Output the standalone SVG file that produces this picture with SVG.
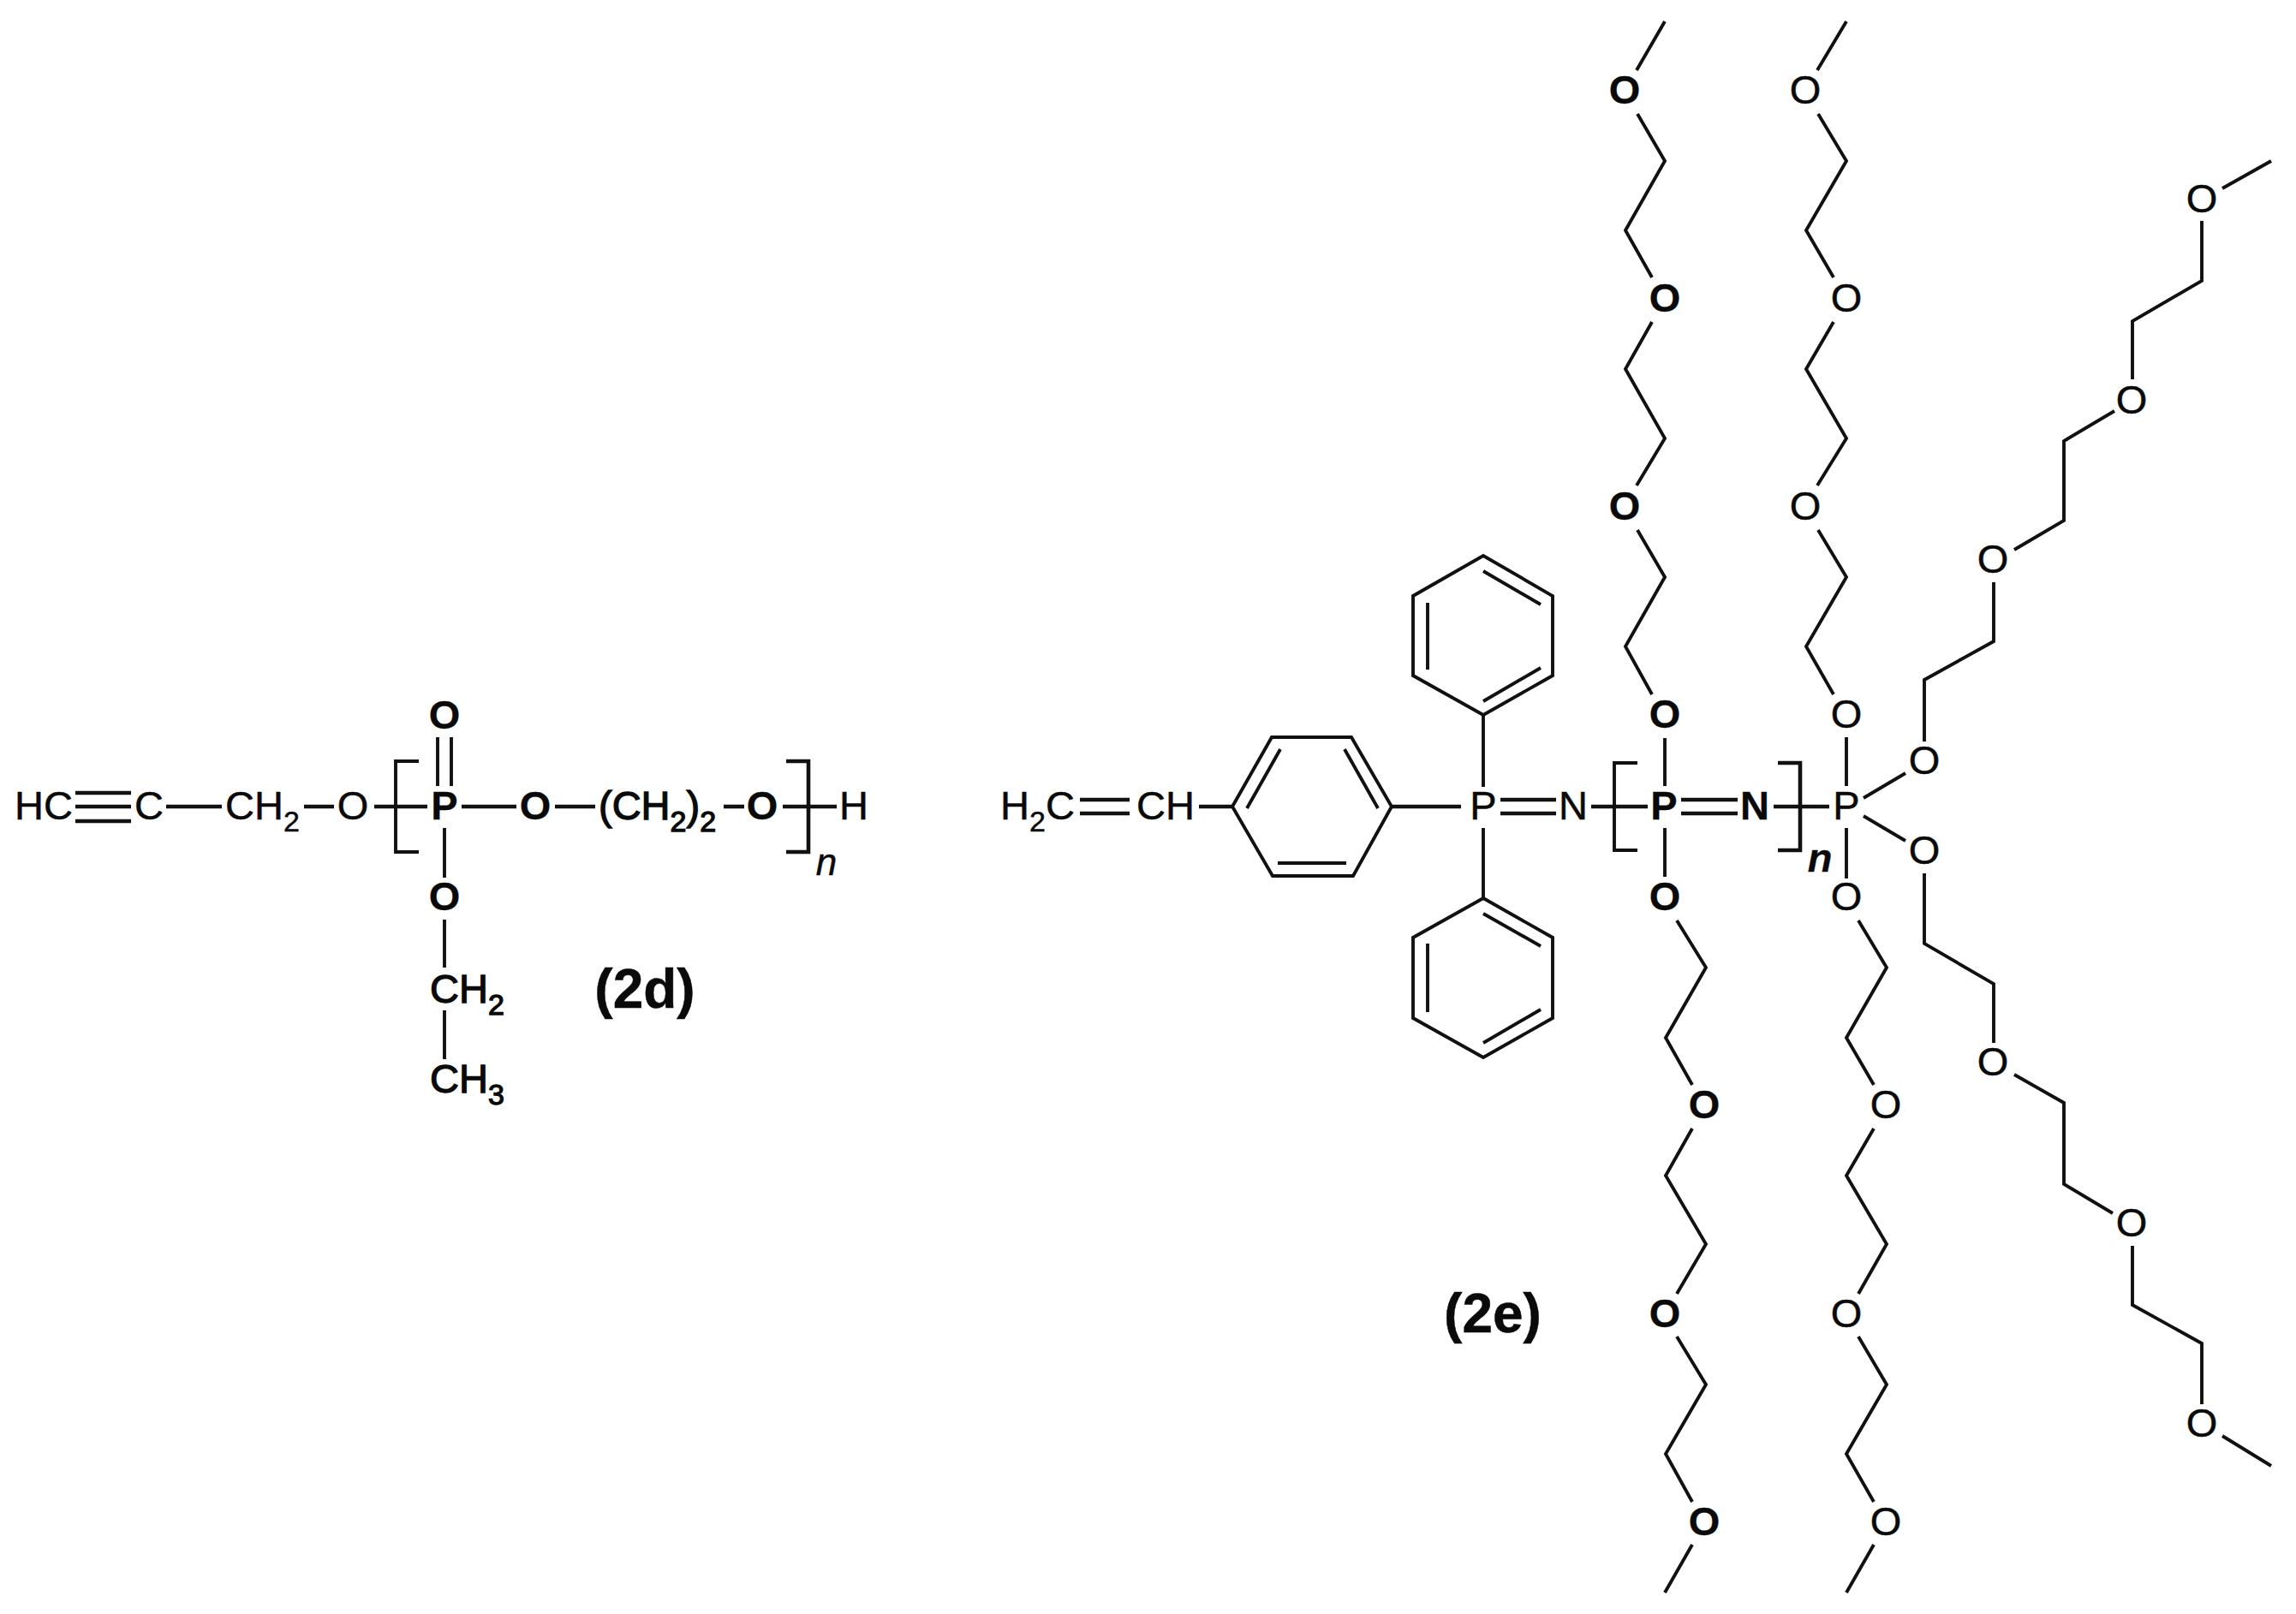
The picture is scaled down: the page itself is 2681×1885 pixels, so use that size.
<svg xmlns="http://www.w3.org/2000/svg" width="2681" height="1885" viewBox="0 0 2681 1885">
<style>
text{font-family:"Liberation Sans",Arial,sans-serif;font-size:47px;fill:#0a0a0a;text-anchor:middle;stroke:#0a0a0a;stroke-width:.5px}
.b{font-weight:bold;stroke-width:.3px}
.m{stroke-width:1.3px}
.s{font-size:34px}
.l{font-size:64px;font-weight:bold}
.st{text-anchor:start}
.n{font-style:italic}
polyline,line,polygon{fill:none;stroke:#111;stroke-width:3.9;stroke-linejoin:miter;stroke-linecap:butt}
.h{stroke-width:4.6}
</style>
<rect width="2681" height="1885" fill="#fff"/>
<g id="connectors">
<g id="bonds-2d" class="c2d">
<line class="h" x1="88" y1="926" x2="153" y2="926"/><line class="h" x1="88" y1="942" x2="153" y2="942"/><line class="h" x1="88" y1="959" x2="153" y2="959"/>
<line class="h" x1="194" y1="942" x2="259" y2="942"/>
<line class="h" x1="355" y1="942" x2="390" y2="942"/>
<line class="h" x1="437" y1="942" x2="499" y2="942"/>
<line class="h" x1="539" y1="942" x2="603" y2="942"/>
<line class="h" x1="648" y1="942" x2="695" y2="942"/>
<line class="h" x1="845" y1="942" x2="869" y2="942"/>
<line class="h" x1="914" y1="942" x2="977" y2="942"/>
<line x1="511" y1="861" x2="511" y2="918"/><line x1="527" y1="861" x2="527" y2="918"/>
<line x1="519" y1="967" x2="519" y2="1025"/>
<line x1="519" y1="1074" x2="519" y2="1130"/>
<line x1="519" y1="1180" x2="519" y2="1237"/>
<polyline points="489,889 462,889 462,995 489,995"/>
<polyline class="h" points="918,889 944,889 944,995 918,995"/>
</g>
<g id="bonds-2e-core">
<line class="h" x1="1261" y1="934" x2="1319" y2="934"/><line class="h" x1="1261" y1="950" x2="1319" y2="950"/>
<line class="h" x1="1400" y1="942" x2="1439" y2="942"/>
<line class="h" x1="1625" y1="942" x2="1706" y2="942"/>
<line class="h" x1="1752" y1="934" x2="1817" y2="934"/><line class="h" x1="1752" y1="950" x2="1817" y2="950"/>
<line x1="1732" y1="919" x2="1732" y2="835"/>
<line x1="1732" y1="967" x2="1732" y2="1049"/>
<line class="h" x1="1858" y1="942" x2="1924" y2="942"/>
<line class="h" x1="1963" y1="934" x2="2029" y2="934"/><line class="h" x1="1963" y1="950" x2="2029" y2="950"/>
<line class="h" x1="2071" y1="942" x2="2136" y2="942"/>
<line x1="1944" y1="862" x2="1944" y2="918"/>
<line x1="1944" y1="967" x2="1944" y2="1024"/>
<line x1="2156" y1="861" x2="2156" y2="918"/>
<line x1="2156" y1="967" x2="2156" y2="1026"/>
<line x1="2176" y1="932" x2="2225" y2="903"/>
<line x1="2176" y1="953" x2="2225" y2="982"/>
<polyline points="1912,891 1885,891 1885,993 1912,993"/>
<polyline class="h" points="2076,891 2102,891 2102,993 2076,993"/>
</g>
<g id="chain-1">
<line x1="1911" y1="82" x2="1944" y2="25"/>
<polyline points="1912,133 1944,188 1898,269 1929,324"/>
<polyline points="1929,376 1898,431 1944,512 1911,567"/>
<polyline points="1912,619 1944,674 1898,755 1929,811"/>
</g>
<g id="chain-2">
<line x1="2122" y1="82" x2="2156" y2="25"/>
<polyline points="2123,133 2156,188 2109,269 2141,324"/>
<polyline points="2141,376 2109,431 2156,512 2122,567"/>
<polyline points="2123,619 2156,674 2109,755 2141,811"/>
</g>
<g id="chain-3">
<line x1="2595" y1="220" x2="2652" y2="188"/>
<polyline points="2571,258 2571,328 2490,375 2490,443"/>
<polyline points="2469,480 2410,515 2410,608 2352,642"/>
<polyline points="2328,680 2328,749 2247,794 2247,866"/>
</g>
<g id="chain-4">
<polyline points="1958,1075 1992,1130 1945,1212 1976,1267"/>
<polyline points="1976,1318 1945,1373 1992,1453 1958,1511"/>
<polyline points="1958,1561 1992,1617 1945,1698 1976,1754"/>
<line x1="1976" y1="1804" x2="1944" y2="1860"/>
</g>
<g id="chain-5">
<polyline points="2170,1075 2203,1130 2156,1212 2188,1267"/>
<polyline points="2188,1318 2156,1373 2203,1453 2170,1511"/>
<polyline points="2170,1561 2203,1617 2156,1698 2188,1754"/>
<line x1="2188" y1="1804" x2="2156" y2="1860"/>
</g>
<g id="chain-6">
<polyline points="2247,1020 2247,1102 2328,1149 2328,1218"/>
<polyline points="2352,1255 2410,1288 2410,1383 2467,1417"/>
<polyline points="2490,1455 2490,1524 2571,1569 2571,1640"/>
<line x1="2595" y1="1677" x2="2652" y2="1712"/>
</g>
</g>
<g id="ring-vinylphenyl">
<polygon points="1439,942 1485,861 1578,861 1625,942 1580,1023 1486,1023"/>
<line x1="1456" y1="944" x2="1495" y2="875"/><line x1="1570" y1="875" x2="1609" y2="944"/><line x1="1492" y1="1008" x2="1572" y2="1008"/>
</g>
<g id="ring-phenyl-top">
<polygon points="1732,835 1813,789 1813,696 1732,649 1650,696 1650,789"/>
<line x1="1667" y1="704" x2="1667" y2="782"/><line x1="1732" y1="667" x2="1799" y2="706"/><line x1="1732" y1="819" x2="1799" y2="780"/>
</g>
<g id="ring-phenyl-bottom">
<polygon points="1732,1049 1813,1095 1813,1189 1732,1235 1650,1189 1650,1095"/>
<line x1="1732" y1="1067" x2="1799" y2="1105"/><line x1="1667" y1="1102" x2="1667" y2="1182"/><line x1="1732" y1="1218" x2="1799" y2="1179"/>
</g>
<g id="mol-2d-atoms" transform="translate(0,-1)">
<g id="d-hc"><text class="st" x="17" y="958">HC</text></g>
<g id="d-c"><text x="174" y="958">C</text></g>
<g id="d-ch2"><text class="st" x="263" y="958">CH<tspan class="s" dy="14">2</tspan></text></g>
<g id="d-o1"><text x="412" y="958">O</text></g>
<g id="d-p"><text class="b" x="519" y="958">P</text></g>
<g id="d-o-top"><text class="b" x="519" y="852">O</text></g>
<g id="d-o2"><text class="b" x="625" y="958">O</text></g>
<g id="d-ch22"><text class="st m" x="699" y="958">(CH<tspan class="s" dy="14">2</tspan><tspan dy="-14">)</tspan><tspan class="s" dy="14">2</tspan></text></g>
<g id="d-o3"><text class="b" x="890" y="958">O</text></g>
<g id="d-h"><text x="997" y="958">H</text></g>
<g id="d-n"><text class="n" x="965" y="1023" style="font-size:44px">n</text></g>
<g id="d-o-low"><text class="b" x="519" y="1064">O</text></g>
<g id="d-ch2b"><text class="st m" x="502" y="1172">CH<tspan class="s" dy="14">2</tspan></text></g>
<g id="d-ch3"><text class="st m" x="502" y="1277">CH<tspan class="s" dy="14">3</tspan></text></g>
<g id="label-2d"><text class="l" x="753" y="1178">(2d)</text></g>
</g>
<g id="mol-2e-atoms" transform="translate(0,-1)">
<g id="e-h2c"><text class="st" x="1168" y="958">H<tspan class="s" dy="14">2</tspan><tspan dy="-14">C</tspan></text></g>
<g id="e-ch"><text class="st" x="1327" y="958">CH</text></g>
<g id="e-p1"><text x="1732" y="958">P</text></g>
<g id="e-n1"><text x="1837" y="958">N</text></g>
<g id="e-p2"><text class="b" x="1943" y="958">P</text></g>
<g id="e-n2"><text class="b" x="2049" y="958">N</text></g>
<g id="e-p3"><text x="2156" y="958">P</text></g>
<g id="e-n"><text class="b n" x="2125" y="1019">n</text></g>
<g id="label-2e"><text class="l" x="1743" y="1557">(2e)</text></g>
<g id="c1-o1"><text class="b" x="1897" y="122">O</text></g>
<g id="c1-o2"><text class="b" x="1944" y="365">O</text></g>
<g id="c1-o3"><text class="b" x="1897" y="608">O</text></g>
<g id="c1-o4"><text class="b" x="1944" y="851">O</text></g>
<g id="c2-o1"><text x="2108" y="122">O</text></g>
<g id="c2-o2"><text x="2156" y="365">O</text></g>
<g id="c2-o3"><text x="2108" y="608">O</text></g>
<g id="c2-o4"><text x="2156" y="851">O</text></g>
<g id="c3-o1"><text x="2571" y="249">O</text></g>
<g id="c3-o2"><text x="2489" y="484">O</text></g>
<g id="c3-o3"><text x="2327" y="670">O</text></g>
<g id="c3-o4"><text x="2247" y="905">O</text></g>
<g id="c4-o1"><text class="b" x="1944" y="1064">O</text></g>
<g id="c4-o2"><text class="b" x="1990" y="1307">O</text></g>
<g id="c4-o3"><text class="b" x="1944" y="1551">O</text></g>
<g id="c4-o4"><text class="b" x="1990" y="1794">O</text></g>
<g id="c5-o1"><text x="2156" y="1064">O</text></g>
<g id="c5-o2"><text x="2202" y="1307">O</text></g>
<g id="c5-o3"><text x="2156" y="1551">O</text></g>
<g id="c5-o4"><text x="2202" y="1794">O</text></g>
<g id="c6-o1"><text x="2247" y="1010">O</text></g>
<g id="c6-o2"><text x="2327" y="1257">O</text></g>
<g id="c6-o3"><text x="2489" y="1445">O</text></g>
<g id="c6-o4"><text x="2571" y="1679">O</text></g>
</g>
</svg>
